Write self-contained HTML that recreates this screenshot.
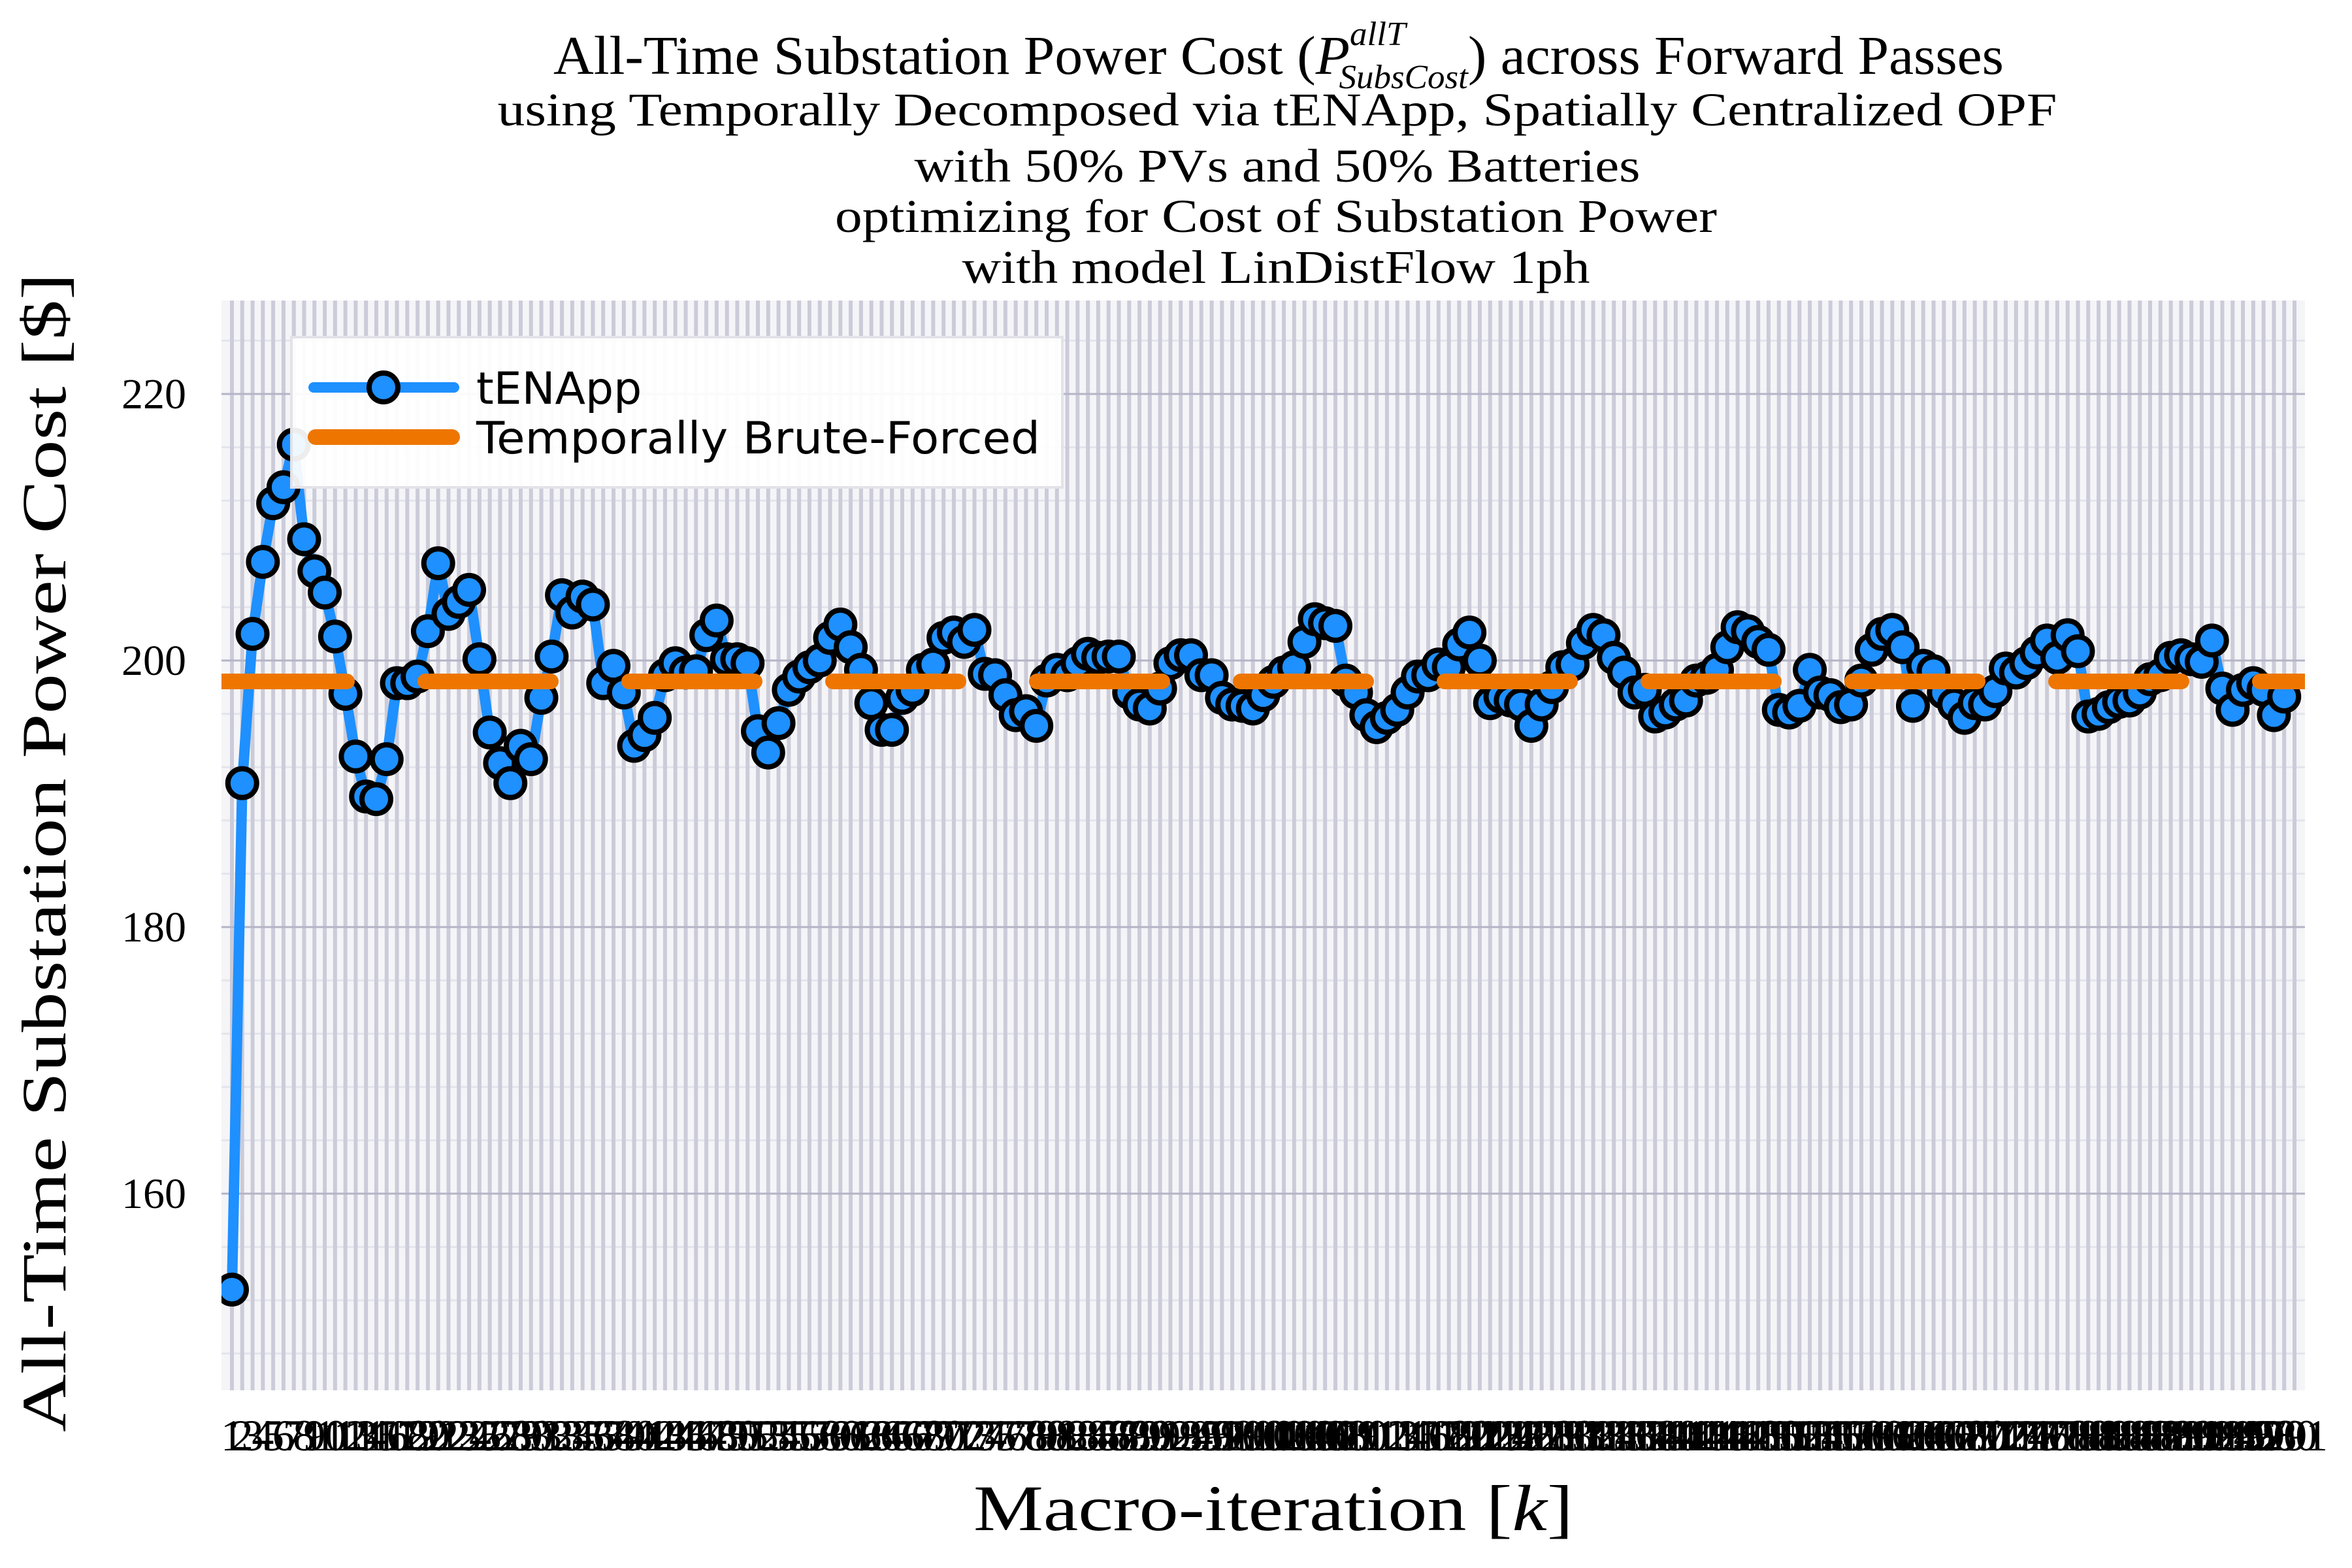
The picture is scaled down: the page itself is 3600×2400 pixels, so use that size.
<!DOCTYPE html>
<html><head><meta charset="utf-8"><style>
html,body{margin:0;padding:0;background:#fff;}
svg{display:block;}
</style></head><body>
<svg id="chart" xmlns="http://www.w3.org/2000/svg" width="3600" height="2400" viewBox="0 0 3600 2400">
<defs><clipPath id="plotclip"><rect x="339" y="460" width="3189" height="1668"/></clipPath></defs>
<rect x="0" y="0" width="3600" height="2400" fill="#ffffff"/>
<rect x="339" y="460" width="3189" height="1668" fill="#f5f5f8"/>
<g id="grid"></g>
<g id="series" clip-path="url(#plotclip)"></g>
<g id="xticks" font-family="'Liberation Serif', serif" font-size="68" text-anchor="middle"></g>
<g id="yticks" font-family="'Liberation Serif', serif" font-size="66" text-anchor="end"></g>
<g font-family="'Liberation Serif', serif" font-size="72" text-anchor="middle" fill="#000">
<text x="1957" y="113" font-size="84" textLength="2220" lengthAdjust="spacingAndGlyphs"><tspan>All-Time Substation Power Cost (</tspan><tspan font-style="italic">P</tspan><tspan font-size="52" font-style="italic" dy="-44">allT</tspan><tspan font-size="52" font-style="italic" dx="-100" dy="66">SubsCost</tspan><tspan dy="-22">) across Forward Passes</tspan></text>
<text x="1955" y="192" textLength="2387" lengthAdjust="spacingAndGlyphs">using Temporally Decomposed via tENApp, Spatially Centralized OPF</text>
<text x="1955" y="278" textLength="1111" lengthAdjust="spacingAndGlyphs">with 50% PVs and 50% Batteries</text>
<text x="1953" y="355" textLength="1350" lengthAdjust="spacingAndGlyphs">optimizing for Cost of Substation Power</text>
<text x="1953" y="433" textLength="961" lengthAdjust="spacingAndGlyphs">with model LinDistFlow 1ph</text>
</g>
<text x="0" y="0" transform="translate(100,1305) rotate(-90)" text-anchor="middle" font-family="'Liberation Serif', serif" font-size="96" textLength="1774" lengthAdjust="spacingAndGlyphs">All-Time Substation Power Cost [$]</text>
<text x="1949" y="2342" text-anchor="middle" font-family="'Liberation Serif', serif" font-size="100" textLength="918" lengthAdjust="spacingAndGlyphs">Macro-iteration [<tspan font-style="italic">k</tspan>]</text>
<g>
<rect x="446" y="516" width="1180" height="230" fill="#ffffff" fill-opacity="0.93" stroke="#e2e2e8" stroke-width="4"/>
<g>
<line x1="480" y1="593" x2="695" y2="593" stroke="#1e90ff" stroke-width="16" stroke-linecap="round"/>
<circle cx="587" cy="593" r="22" fill="#1e90ff" stroke="#000" stroke-width="8"/>
<text x="729" y="618" font-family="'DejaVu Sans', sans-serif" font-size="68">tENApp</text>
</g>
<g>
<line x1="483" y1="669" x2="692" y2="669" stroke="#ee7600" stroke-width="24" stroke-linecap="round"/>
<text x="729" y="694" font-family="'DejaVu Sans', sans-serif" font-size="68" textLength="863" lengthAdjust="spacingAndGlyphs">Temporally Brute-Forced</text>
</g>
</g>
</svg>
<script>
const iterations = 200;
const tickLabelCount = 201;
const yTicks = [160, 180, 200, 220];
const bruteForced = [198.43];
const tenapp = [
152.8,190.8,202.0,207.4,211.8,213.0,216.2,209.1,206.7,205.1,
201.8,197.5,192.8,189.8,189.6,192.6,198.3,198.3,198.8,202.2,
207.3,203.5,204.4,205.3,200.1,194.6,192.3,190.8,193.6,192.6,
197.2,200.3,204.9,203.6,204.8,204.2,198.3,199.6,197.6,193.6,
194.4,195.7,198.9,199.8,199.1,199.2,201.9,203.0,200.1,200.1,
199.8,194.7,193.1,195.3,197.8,198.8,199.5,200.0,201.7,202.7,
201.0,199.3,196.8,194.8,194.8,197.2,197.8,199.3,199.7,201.7,
202.1,201.4,202.3,199.0,198.9,197.4,195.9,196.2,195.1,198.5,
199.3,198.9,199.8,200.5,200.2,200.3,200.3,197.6,196.7,196.4,
197.9,199.8,200.4,200.4,198.9,198.9,197.2,196.7,196.6,196.4,
197.4,198.4,199.1,199.5,201.4,203.1,202.8,202.6,198.5,197.6,
195.9,195.0,195.7,196.3,197.6,198.8,198.9,199.7,199.5,201.2,
202.1,200.0,196.8,197.3,197.0,196.7,195.1,196.7,198.0,199.5,
199.7,201.3,202.3,201.9,200.2,199.1,197.6,197.8,195.8,196.1,
196.7,197.0,198.5,198.7,199.3,201.0,202.5,202.2,201.4,200.8,
196.3,196.1,196.6,199.3,197.6,197.4,196.5,196.7,198.5,200.8,
202.0,202.3,201.0,196.6,199.6,199.2,197.6,196.7,195.7,196.8,
196.7,197.7,199.4,199.1,199.8,200.6,201.5,200.2,201.9,200.7,
195.8,196.0,196.5,196.9,197.0,197.6,198.6,198.9,200.2,200.4,
200.1,199.9,201.5,197.9,196.3,197.8,198.3,197.8,195.9,197.3
];
const NS = 'http://www.w3.org/2000/svg';
const PL = 339, PR = 3528, PT = 460, PB = 2128;
function xs(k){ return 355 + (k - 1) * (3512 - 355) / (tickLabelCount - 1); }
function ys(v){ return 603 + (220 - v) * 20.4; }
function mk(tag, attrs, parent){ const e = document.createElementNS(NS, tag); for (const a in attrs) e.setAttribute(a, attrs[a]); parent.appendChild(e); return e; }
const grid = document.getElementById('grid');
for (let v = 148; v <= 226; v += 4) {
  if (v % 20 === 0) continue;
  const l = mk('line', {x1: PL, x2: PR, y1: ys(v), y2: ys(v), stroke: '#e4e4ec', 'stroke-width': 3}, grid);
  
  
}
for (let k = 1; k <= tickLabelCount; k++) {
  const l = mk('line', {x1: xs(k), x2: xs(k), y1: PT, y2: PB, stroke: '#cbcbd9', 'stroke-width': 6}, grid);
  
  
}
const ytg = document.getElementById('yticks');
yTicks.forEach(v => {
  const l = mk('line', {x1: PL, x2: PR, y1: ys(v), y2: ys(v), stroke: '#b4b4c6', 'stroke-width': 3}, grid);
  
  
  const t = mk('text', {x: 285, y: ys(v) + 22}, ytg);
  t.textContent = String(v);
  
  
});
const xtg = document.getElementById('xticks');
for (let k = 1; k <= tickLabelCount; k++) {
  const t = mk('text', {x: xs(k), y: 2220}, xtg);
  t.textContent = String(k);
  
  
}
const series = document.getElementById('series');
const pts = tenapp.map((v, i) => xs(i + 1).toFixed(1) + ',' + ys(v).toFixed(1)).join(' ');
const pl = mk('polyline', {points: pts, fill: 'none', stroke: '#1e90ff', 'stroke-width': 16, 'stroke-linejoin': 'round'}, series);


tenapp.forEach((v, i) => {
  const c = mk('circle', {cx: xs(i + 1), cy: ys(v), r: 22, fill: '#1e90ff', stroke: '#000', 'stroke-width': 8}, series);
  
  
});
const bf = mk('line', {x1: PL, x2: PR, y1: ys(bruteForced[0]), y2: ys(bruteForced[0]), stroke: '#ee7600', 'stroke-width': 24, 'stroke-linecap': 'round', 'stroke-dasharray': '192 120'}, series);


</script>
</body></html>
